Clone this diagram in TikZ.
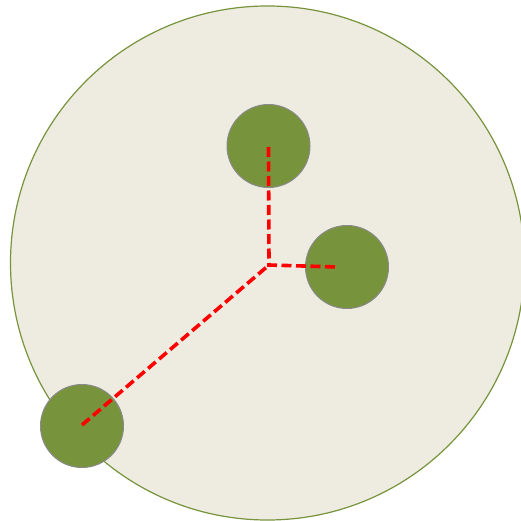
\documentclass[tikz,border=0pt]{standalone}
\definecolor{olive}{HTML}{77933C}
\definecolor{paper}{HTML}{EEECE1}
\definecolor{rim}{HTML}{8A8A8A}
\tikzset{
  big/.style={circle, draw=olive, fill=paper, line width=1.2pt, minimum size=514pt, inner sep=0pt},
  ball/.style={circle, draw=rim, fill=olive, line width=1pt, minimum size=83pt, inner sep=0pt},
  link/.style={red, line width=3.6pt, dash pattern=on 10pt off 4.5pt}
}
\begin{document}
\begin{tikzpicture}[x=1pt,y=-1pt]
\useasboundingbox (0,0) rectangle (521,521);
\node[big] (disk) at (267.5,263) {};
\node[ball] (b1) at (268.5,146) {};
\node[ball] (b2) at (347,267) {};
\node[ball] (b3) at (82,426) {};
\coordinate (c) at (269,265);
\coordinate (e1) at (268.5,147);
\coordinate (e2) at (337,267);
\coordinate (e3) at (82,425);
\draw[link] (e1) -- (c) -- (e2);
\draw[link] (e3) -- (c);
\end{tikzpicture}
\end{document}
